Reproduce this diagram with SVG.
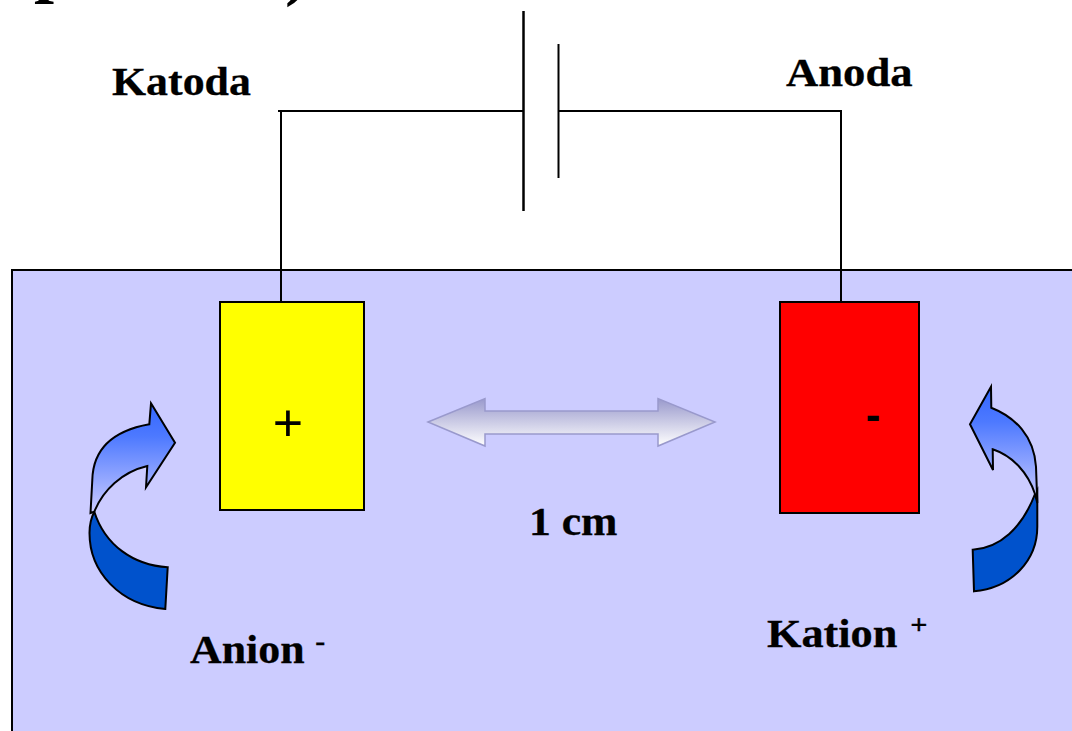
<svg xmlns="http://www.w3.org/2000/svg" width="1072" height="731" viewBox="0 0 1072 731">
<style>
.t{font-family:"Liberation Serif",serif;font-weight:700;fill:#000;font-size:41px;stroke:#000;stroke-width:.3}
.f{font-family:"Liberation Serif",serif;font-weight:700;fill:#000;font-size:72px}
.w{fill:none;stroke:#000;stroke-width:2}
.e{stroke:#000;stroke-width:2}
.c{stroke:#000;stroke-width:2;stroke-linejoin:miter}
</style>
<defs>
<linearGradient id="up" x1="0" y1="0" x2="0" y2="1"><stop offset="0" stop-color="#3366ff"/><stop offset="0.3" stop-color="#4d79ff"/><stop offset="1" stop-color="#ccccff"/></linearGradient>
<linearGradient id="dbl" x1="0" y1="0" x2="0" y2="1"><stop offset="0" stop-color="#9999cc"/><stop offset="1" stop-color="#ffffff"/></linearGradient>
</defs>
<rect width="1072" height="731" fill="#fff"/>
<rect id="bath" x="12" y="270" width="1070" height="480" fill="#ccccff" stroke="#000" stroke-width="2"/>
<g id="connectors">
<path class="w" d="M278 111H523M558 111H841V302M281 111V302"/>
<path class="w" d="M523.500 11V211" style="stroke-width:2.500"/>
<path class="w" d="M558.500 44V178"/>
</g>
<g id="katode-plate"><rect class="e" x="220" y="302" width="144" height="208" fill="#ffff00"/>
<text x="288" y="441" font-family="Liberation Sans,sans-serif" font-size="52" text-anchor="middle">+</text></g>
<g id="anode-plate"><rect class="e" x="780" y="302" width="139" height="211" fill="#ff0000"/>
<text x="873" y="430" font-family="Liberation Sans,sans-serif" font-size="44" font-weight="700" text-anchor="middle">-</text></g>
<g id="distance-arrow"><path d="M428 422L485 398.500V411H658V398.500L715 422L658 446V434H485V446Z" fill="url(#dbl)" stroke="#9999cc" stroke-width="1.500"/></g>
<g id="anion-arrow">
<path class="c" fill="#0052cc" d="M94.300 511.700C105 545 133 565 167.700 567.300L165.300 609C120 605 89.500 572 89.500 533C89.500 525 91 518 94.300 511.700Z"/>
<path class="c" fill="url(#up)" d="M151 403.300L175 442.700L146 487.300L147.300 466C122 472 103 490 94.300 511.700L90.500 513L92.300 480C93 450 112 431 149.300 424.300Z"/>
</g>
<g id="kation-arrow">
<path class="c" fill="#0052cc" d="M1035 494C1022 528 1000 548 972.700 549.700L974 591.300C1012 588 1037.300 560 1037.300 526.700V490Z"/>
<path class="c" fill="url(#up)" d="M991 386.700L970 424.300L993 470L992.700 449.300C1013 456 1028 473 1035 494L1037.300 503L1036 466.700C1034 436 1015 417 991.300 407.700Z"/>
</g>
<g id="labels">
<text class="f" x="34" y="-11">p</text>
<text class="f" x="285" y="-8">)</text>
<text class="t" transform="translate(112 95) scale(1.07 1)">Katoda</text>
<text class="t" transform="translate(786 86) scale(1.09 1)">Anoda</text>
<text class="t" transform="translate(529 535) scale(1.065 1)">1 cm</text>
<text class="t" transform="translate(190 663) scale(1.07 1)">Anion<tspan dx="10" dy="-13" style="font-size:28px">-</tspan></text>
<text class="t" transform="translate(767 647) scale(1.08 1)">Kation<tspan dx="12" dy="-13" style="font-size:28px">+</tspan></text>
</g>
</svg>
